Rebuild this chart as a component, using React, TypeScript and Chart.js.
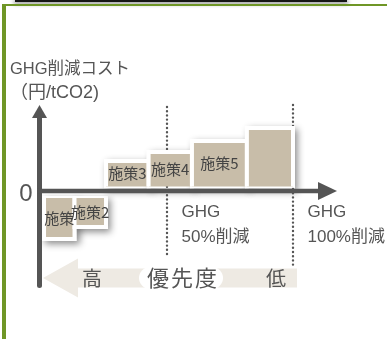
import React, { useEffect, useRef } from 'react';
import { Chart, registerables } from 'chart.js';

// ---- data ----
const measureLabels = ['施策', '施策2', '施策3', '施策4', '施策5', ''];
const reductionFrom = [1.2, 13.3, 25.8, 42.7, 59.9, 81.7];
const reductionTo = [13.3, 25.8, 42.7, 59.9, 81.7, 100];
const abatementCost = [-48, -36, 30, 39, 50, 63];
const milestoneReduction = [50, 100];
const milestoneLabels = [['GHG', '50%削減'], ['GHG', '100%削減']];
const milestoneTop = [84, 86];
const milestoneBottom = [-67, -76];
const yAxisTitle = ['GHG削減コスト', '（円/tCO2)'];
const zeroTickLabel = '0';
const priorityLabels = ['高', '優先度', '低'];

// ---- styles ----
const FONT = "'Liberation Sans', 'Noto Sans CJK JP', sans-serif";
const CJK = "'Noto Sans CJK JP', 'Liberation Sans', sans-serif";
const TEXT = '#555555';
const AXIS = '#555555';
const BAR_FILL = '#c8bda9';
const PALE = '#eeeae3';
const GREEN = '#6f9626';
const POS_GAP = 4.5;
const NEG_GAP = 7;

const shadowPlugin = {
  id: 'barShadow',
  beforeDatasetsDraw(chart: any) {
    const ctx = chart.ctx;
    chart.data.datasets.forEach((ds: any, i: number) => {
      if (!ds.isBar) return;
      const pts = chart.getDatasetMeta(i).data;
      const xs = pts.map((p: any) => p.x);
      const ys = pts.map((p: any) => p.y);
      const x1 = Math.min(...xs), x2 = Math.max(...xs);
      const y1 = Math.min(...ys), y2 = Math.max(...ys);
      ctx.save();
      ctx.shadowColor = 'rgba(0,0,0,0.45)';
      ctx.shadowBlur = 7;
      ctx.shadowOffsetX = 3;
      ctx.shadowOffsetY = 3;
      ctx.fillStyle = '#ffffff';
      ctx.fillRect(x1 - 2, y1 - 2, x2 - x1 + 4, y2 - y1 + 4);
      ctx.restore();
    });
  },
};

const decorPlugin = {
  id: 'decor',
  afterDatasetsDraw(chart: any) {
    const ctx = chart.ctx;
    const xs = chart.scales.x;
    const ys = chart.scales.y;
    const area = chart.chartArea;
    const x0 = xs.getPixelForValue(0);
    const y0 = ys.getPixelForValue(0);
    ctx.save();

    // bar labels
    ctx.fillStyle = '#444444';
    ctx.font = `15px ${CJK}`;
    ctx.textAlign = 'center';
    ctx.textBaseline = 'middle';
    chart.data.datasets.forEach((ds: any, i: number) => {
      if (!ds.isBar || !ds.label) return;
      const pts = chart.getDatasetMeta(i).data;
      const cx = (pts[1].x + pts[2].x) / 2;
      const cy = (pts[0].y + pts[1].y) / 2;
      ctx.fillText(ds.label, cx, cy);
    });

    // y axis
    const yAxX = x0 - 1.5;
    ctx.strokeStyle = AXIS;
    ctx.fillStyle = AXIS;
    ctx.lineWidth = 5;
    ctx.lineCap = 'round';
    ctx.beginPath();
    ctx.moveTo(yAxX, area.top + 12);
    ctx.lineTo(yAxX, area.bottom - 4.5);
    ctx.stroke();
    ctx.beginPath();
    ctx.moveTo(yAxX, area.top);
    ctx.lineTo(yAxX + 7.5, area.top + 13);
    ctx.lineTo(yAxX - 7.5, area.top + 13);
    ctx.closePath();
    ctx.fill();

    // x axis
    const xEnd = area.right + 44;
    ctx.lineWidth = 4.5;
    ctx.lineCap = 'butt';
    ctx.beginPath();
    ctx.moveTo(yAxX - 2.5, y0);
    ctx.lineTo(xEnd - 17, y0);
    ctx.stroke();
    ctx.beginPath();
    ctx.moveTo(xEnd, y0);
    ctx.lineTo(xEnd - 19, y0 - 9);
    ctx.lineTo(xEnd - 19, y0 + 9);
    ctx.closePath();
    ctx.fill();

    // zero tick
    ctx.fillStyle = TEXT;
    ctx.font = `24px ${FONT}`;
    ctx.textAlign = 'right';
    ctx.textBaseline = 'middle';
    ctx.fillText(zeroTickLabel, yAxX - 7, y0 + 3);

    // axis title
    ctx.textAlign = 'left';
    ctx.font = `16.5px ${FONT}`;
    ctx.fillText(yAxisTitle[0], 10, area.top - 36);
    ctx.font = `18px ${FONT}`;
    ctx.fillText(yAxisTitle[1], 10, area.top - 12);

    // milestone labels
    ctx.font = `17px ${FONT}`;
    milestoneReduction.forEach((v, i) => {
      const px = xs.getPixelForValue(v) + 14.5;
      ctx.fillText(milestoneLabels[i][0], px, y0 + 21);
      ctx.fillText(milestoneLabels[i][1], px, y0 + 46);
    });

    // priority arrow
    const tipX = x0 + 2;
    const endX = xs.getPixelForValue(100) + 4;
    const cy = y0 + 87;
    ctx.fillStyle = PALE;
    ctx.beginPath();
    ctx.moveTo(tipX, cy);
    ctx.lineTo(tipX + 35, cy - 19.5);
    ctx.lineTo(tipX + 35, cy - 9.5);
    ctx.lineTo(endX, cy - 9.5);
    ctx.lineTo(endX, cy + 9.5);
    ctx.lineTo(tipX + 35, cy + 9.5);
    ctx.lineTo(tipX + 35, cy + 19.5);
    ctx.closePath();
    ctx.fill();
    const midX = (tipX + endX) / 2 + 11;
    ctx.fillStyle = '#ffffff';
    ctx.beginPath();
    (ctx as any).roundRect(midX - 42, cy - 11, 84, 22, 11);
    ctx.fill();
    ctx.fillStyle = TEXT;
    ctx.textAlign = 'center';
    ctx.font = `20px ${CJK}`;
    ctx.fillText(priorityLabels[0], tipX + 49, cy);
    ctx.fillText(priorityLabels[2], endX - 21, cy);
    ctx.font = `22px ${CJK}`;
    (ctx as any).letterSpacing = '2px';
    ctx.fillText(priorityLabels[1], midX + 2, cy);
    (ctx as any).letterSpacing = '0px';

    ctx.restore();
  },
};

Chart.register(shadowPlugin);
Chart.register(...registerables);

export default function App() {
  const ref = useRef<HTMLCanvasElement>(null);
  useEffect(() => {
    const barSets = abatementCost.map((cost, i) => {
      const base = cost >= 0 ? POS_GAP : -NEG_GAP;
      return {
        isBar: true,
        label: measureLabels[i],
        data: [
          { x: reductionFrom[i], y: base },
          { x: reductionFrom[i], y: cost },
          { x: reductionTo[i], y: cost },
          { x: reductionTo[i], y: base },
        ],
        fill: { value: base },
        backgroundColor: BAR_FILL,
        borderColor: '#ffffff',
        borderWidth: 4,
        borderJoinStyle: 'miter',
        borderCapStyle: 'butt',
        pointRadius: 0,
        tension: 0,
        clip: false,
        order: 20 - i,
      };
    });
    const guideSets = milestoneReduction.map((v, i) => ({
      label: '',
      data: [
        { x: v, y: milestoneTop[i] },
        { x: v, y: milestoneBottom[i] },
      ],
      fill: false,
      borderColor: '#555555',
      borderWidth: 2.4,
      borderDash: [0, 4.2],
      borderCapStyle: 'round',
      pointRadius: 0,
      clip: false,
      order: 100,
    }));
    const chart = new Chart(ref.current as HTMLCanvasElement, {
      type: 'line',
      data: { datasets: [...barSets, ...guideSets] as any },
      options: {
        animation: false,
        responsive: true,
        maintainAspectRatio: false,
        events: [],
        layout: { padding: { left: 41, right: 94, top: 105, bottom: 49 } },
        scales: {
          x: { type: 'linear', min: 0, max: 100, display: false },
          y: { type: 'linear', min: -99, max: 86, display: false },
        },
        plugins: {
          legend: { display: false },
          tooltip: { enabled: false },
          title: { display: false },
        },
      } as any,
      plugins: [decorPlugin],
    });
    return () => chart.destroy();
  }, []);

  return (
    <div style={{ position: 'absolute', left: 0, top: 0, width: 387, height: 339, background: '#ffffff', overflow: 'hidden' }}>
      <div style={{ position: 'absolute', left: 15, top: 0, width: 332, height: 2, background: '#151515', boxShadow: '0 1px 4px 1px rgba(0,0,0,0.45)' }} />
      <div style={{ position: 'absolute', left: 2, top: 4, width: 385, height: 2, background: GREEN }} />
      <div style={{ position: 'absolute', left: 2, top: 4, width: 4, height: 335, background: GREEN }} />
      <div style={{ position: 'absolute', left: 0, top: 0, width: 387, height: 339 }}>
        <canvas ref={ref} />
      </div>
    </div>
  );
}
